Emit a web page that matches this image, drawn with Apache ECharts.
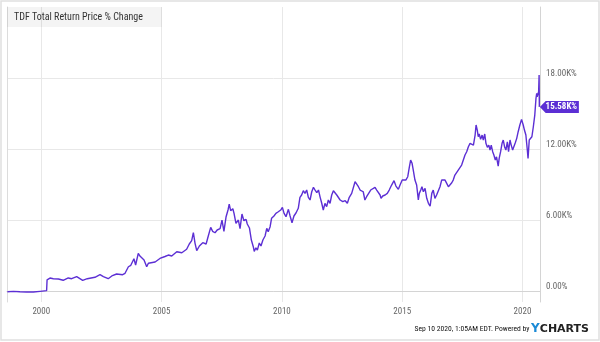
<!DOCTYPE html>
<html>
<head>
<meta charset="utf-8">
<style>
  html, body { margin: 0; padding: 0; background: #fff; }
  #chart { width: 600px; height: 342px; }
</style>
<script src="https://cdn.jsdelivr.net/npm/echarts@6/dist/echarts.min.js"></script>
</head>
<body>
<div id="chart"></div>
<script>
// TDF total return, % change since inception of the window (decimal years)
const years = [
  1998.59, 1998.84, 1999.11, 1999.39, 1999.67, 1999.95, 2000.22, 2000.24, 2000.36, 2000.50,
  2000.71, 2000.91, 2001.12, 2001.26, 2001.47, 2001.72, 2001.91, 2002.23, 2002.44, 2002.58,
  2002.78, 2002.93, 2003.13, 2003.38, 2003.48, 2003.62, 2003.72, 2003.80, 2003.85, 2003.92,
  2004.03, 2004.10, 2004.17, 2004.27, 2004.38, 2004.45, 2004.52, 2004.73, 2004.93, 2005.14,
  2005.28, 2005.42, 2005.63, 2005.84, 2005.90, 2006.04, 2006.15, 2006.25, 2006.32, 2006.39,
  2006.46, 2006.57, 2006.71, 2006.85, 2006.94, 2007.04, 2007.12, 2007.22, 2007.31, 2007.43,
  2007.51, 2007.59, 2007.68, 2007.76, 2007.81, 2007.87, 2007.96, 2008.01, 2008.09, 2008.19,
  2008.26, 2008.34, 2008.42, 2008.51, 2008.56, 2008.65, 2008.73, 2008.81, 2008.85, 2008.92,
  2008.98, 2009.06, 2009.13, 2009.21, 2009.30, 2009.37, 2009.43, 2009.51, 2009.57, 2009.67,
  2009.75, 2009.85, 2009.95, 2010.02, 2010.09, 2010.17, 2010.27, 2010.34, 2010.42, 2010.50,
  2010.59, 2010.68, 2010.75, 2010.82, 2010.89, 2010.96, 2011.03, 2011.10, 2011.17, 2011.24,
  2011.31, 2011.38, 2011.45, 2011.52, 2011.59, 2011.65, 2011.72, 2011.79, 2011.86, 2011.93,
  2012.00, 2012.07, 2012.14, 2012.21, 2012.28, 2012.35, 2012.42, 2012.53, 2012.63, 2012.72,
  2012.80, 2012.90, 2012.97, 2013.04, 2013.11, 2013.18, 2013.25, 2013.31, 2013.38, 2013.45,
  2013.52, 2013.59, 2013.69, 2013.77, 2013.87, 2013.94, 2014.01, 2014.08, 2014.12, 2014.19,
  2014.29, 2014.38, 2014.46, 2014.56, 2014.66, 2014.74, 2014.84, 2014.91, 2015.00, 2015.07,
  2015.15, 2015.23, 2015.30, 2015.35, 2015.41, 2015.46, 2015.53, 2015.60, 2015.67, 2015.71,
  2015.77, 2015.82, 2015.88, 2015.95, 2016.02, 2016.09, 2016.16, 2016.23, 2016.29, 2016.36,
  2016.43, 2016.50, 2016.57, 2016.64, 2016.71, 2016.78, 2016.85, 2016.92, 2016.99, 2017.06,
  2017.12, 2017.19, 2017.26, 2017.33, 2017.40, 2017.47, 2017.54, 2017.61, 2017.68, 2017.75,
  2017.82, 2017.89, 2017.96, 2018.03, 2018.07, 2018.12, 2018.16, 2018.20, 2018.26, 2018.32,
  2018.37, 2018.43, 2018.48, 2018.54, 2018.60, 2018.65, 2018.70, 2018.76, 2018.81, 2018.87,
  2018.92, 2018.99, 2019.03, 2019.09, 2019.15, 2019.20, 2019.26, 2019.31, 2019.37, 2019.42,
  2019.48, 2019.53, 2019.59, 2019.64, 2019.70, 2019.76, 2019.82, 2019.89, 2019.96, 2020.03,
  2020.08, 2020.14, 2020.20, 2020.23, 2020.28, 2020.34, 2020.39, 2020.45, 2020.51, 2020.56,
  2020.59, 2020.61, 2020.67, 2020.69, 2020.70
];
const totalReturnPct = [
  0, 30, 0, -25, -25, 30, 85, 1000, 1150, 1095,
  1070, 960, 1155, 1095, 1265, 960, 1095, 1215, 1430, 1265,
  1095, 1325, 1490, 1430, 1550, 2100, 2225, 2335, 2780, 2250,
  3235, 3000, 2900, 2670, 2100, 2400, 2335, 2500, 2800, 2965,
  3090, 3010, 3370, 3285, 3175, 3575, 4020, 4300, 4970, 4080,
  3455, 3850, 4130, 4020, 4695, 5425, 5090, 4970, 5200, 5310,
  6040, 5090, 6320, 6885, 7390, 6825, 6995, 6605, 5765, 6040,
  5310, 6550, 5985, 6100, 5705, 5370, 4355, 3790, 3400, 3700,
  3500, 4100, 3850, 4355, 4695, 5340, 5055, 5480, 6185, 6380,
  6605, 6740, 6885, 7110, 6605, 6320, 6945, 6380, 5815, 6380,
  6655, 7030, 7955, 8150, 8510, 8290, 8570, 7955, 7730, 8425,
  8800, 8570, 8345, 8570, 7955, 7500, 6885, 7450, 7165, 7730,
  7450, 8150, 8510, 8425, 8150, 8290, 7730, 7585, 7670, 7450,
  7955, 8290, 8425, 9270, 9355, 8850, 8570, 8715, 8425, 7730,
  8005, 8065, 8570, 8630, 8800, 8570, 8630, 8150, 7870, 8065,
  8150, 8290, 8570, 8990, 9355, 8905, 8630, 8990, 9410, 9470,
  9410, 9690, 10535, 11100, 10820, 10255, 9410, 8990, 7730, 8290,
  8570, 8850, 8425, 8715, 7870, 7450, 7220, 8290, 8570, 7870,
  8150, 8290, 8850, 9410, 9270, 9410, 9135, 8850, 8715, 9185,
  9410, 9835, 9975, 10255, 10400, 10675, 11100, 11520, 11800, 12220,
  12505, 12640, 12360, 13205, 14050, 13625, 13060, 13290, 12840, 13205,
  12785, 13290, 12505, 12170, 12360, 11940, 12360, 11800, 11520, 11100,
  11375, 10590, 11240, 11800, 12505, 12785, 12170, 11940, 12640, 11800,
  12785, 12360, 11940, 12085, 12555, 12925, 13485, 14050, 14525, 14050,
  13625, 13205, 11940, 11240, 12785, 12640, 13060, 13905, 14890, 16300,
  16720, 16430, 16855, 18260, 15580
];
const yearTicks = [2000, 2005, 2010, 2015, 2020];
const pctTicks = [0, 6000, 12000, 18000];
const titleText = 'TDF Total Return Price % Change';
const stampText = 'Sep 10 2020, 1:05AM EDT.';

const X_MIN = 1998.574, X_MAX = 2020.727;
const Y_MIN = -870, Y_MAX = 24000;
const LINE_COLOR = '#5c2fd4';
const NARROW = "'Liberation Sans Narrow', 'Roboto Condensed', 'DejaVu Sans Condensed', sans-serif";

function fmtPct(v) {
  if (v === 0) return '0.00%';
  return (v / 1000).toFixed(2) + 'K%';
}

const seriesData = years.map((y, i) => [y, totalReturnPct[i]]);
const lastIdx = years.length - 1;

const chart = echarts.init(document.getElementById('chart'), null, { renderer: 'canvas' });
chart.setOption({
  animation: false,
  backgroundColor: '#fff',
  textStyle: { fontFamily: NARROW },
  title: [
    {
      text: titleText,
      left: 7, top: 7,
      padding: [5, 19, 5, 7],
      backgroundColor: 'rgba(0,0,0,0.045)',
      textStyle: { fontFamily: NARROW, fontSize: 10, fontWeight: 'normal', color: '#333' }
    },
    {
      text: '{s|' + stampText + ' Powered by }{y|Y}{c|CHARTS}',
      right: 6, bottom: 2,
      textStyle: {
        fontWeight: 'normal',
        rich: {
          s: { fontFamily: NARROW, fontSize: 7.6, fontWeight: 'normal', color: '#111' },
          y: { fontFamily: 'DejaVu Sans', fontSize: 12, fontWeight: 'bold', color: '#1b8ad6' },
          c: { fontFamily: 'DejaVu Sans', fontSize: 11, fontWeight: 'bold', color: '#222' }
        }
      }
    }
  ],
  graphic: [
    {
      type: 'rect', silent: true, z: -1,
      shape: { x: 1, y: 1, width: 598, height: 339 },
      style: { fill: 'none', stroke: '#e0e0e0', lineWidth: 1.5 }
    }
  ],
  grid: { left: 7, right: 60, top: 7, bottom: 40, containLabel: false },
  xAxis: {
    type: 'value', min: X_MIN, max: X_MAX,
    axisLine: { show: true, lineStyle: { color: '#d4d4d4', width: 1 } },
    axisTick: { show: false, customValues: yearTicks },
    axisLabel: {
      customValues: yearTicks, color: '#666', fontSize: 9, margin: 5,
      fontFamily: NARROW, formatter: v => String(v)
    },
    splitLine: { show: true, lineStyle: { color: '#e8e8e8', width: 1 } }
  },
  yAxis: [
    {
      type: 'value', position: 'right', min: Y_MIN, max: Y_MAX,
      axisLine: { show: true, lineStyle: { color: '#d4d4d4', width: 1 } },
      axisTick: { show: false, customValues: pctTicks },
      axisLabel: {
        customValues: pctTicks, color: '#666', fontSize: 9, margin: 6,
        fontFamily: NARROW, verticalAlign: 'bottom', formatter: fmtPct
      },
      splitLine: { show: true, lineStyle: { color: '#e8e8e8', width: 1 } }
    },
    {
      type: 'value', position: 'left', min: Y_MIN, max: Y_MAX,
      axisLine: { show: true, lineStyle: { color: '#dcdcdc', width: 1 } },
      axisTick: { show: false }, axisLabel: { show: false }, splitLine: { show: false }
    }
  ],
  series: [
    {
      type: 'line',
      yAxisIndex: 0,
      data: seriesData,
      showSymbol: false,
      lineStyle: { color: LINE_COLOR, width: 1.4 },
      itemStyle: { color: LINE_COLOR },
      z: 3,
      markPoint: {
        symbol: 'path://M0,6 L6,0 L40,0 L40,12 L6,12 Z',
        symbolSize: [39, 12],
        symbolOffset: [20, 0],
        symbolKeepAspect: false,
        itemStyle: { color: LINE_COLOR },
        label: {
          show: true, position: 'inside', offset: [2, 0],
          color: '#fff', fontSize: 9, fontWeight: 'bold', fontFamily: NARROW,
          formatter: p => fmtPct(p.value)
        },
        data: [{ coord: [years[lastIdx], totalReturnPct[lastIdx]], value: totalReturnPct[lastIdx] }]
      }
    }
  ]
});
</script>
</body>
</html>
